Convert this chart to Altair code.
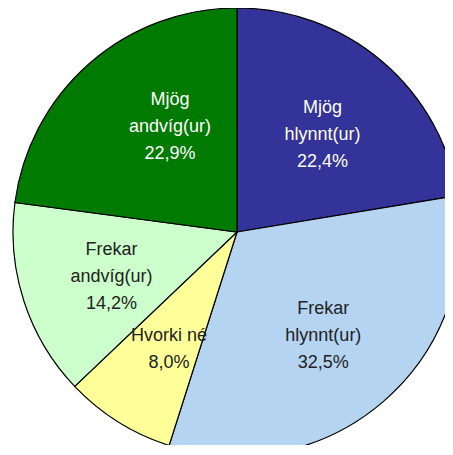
import altair as alt
import pandas as pd

categories = ["Mjög hlynnt(ur)", "Frekar hlynnt(ur)", "Hvorki né", "Frekar andvíg(ur)", "Mjög andvíg(ur)"]
label_lines = ["Mjög\nhlynnt(ur)", "Frekar\nhlynnt(ur)", "Hvorki né", "Frekar\nandvíg(ur)", "Mjög\nandvíg(ur)"]
values = [22.4, 32.5, 8.0, 14.2, 22.9]
value_labels = ["22,4%", "32,5%", "8,0%", "14,2%", "22,9%"]
slice_colors = ["#333399", "#B4D4F2", "#FFFF99", "#CCFFCC", "#007A00"]
text_colors = ["#FFFFFF", "#222222", "#222222", "#222222", "#FFFFFF"]

full = [f"{a}\n{b}" for a, b in zip(label_lines, value_labels)]
last = categories[-1]
df = pd.DataFrame({
    "cat": categories,
    "label_a": [t if (t.count("\n") == 2 and c != last) else "" for t, c in zip(full, categories)],
    "label_b": [t if c == last else "" for t, c in zip(full, categories)],
    "label_c": [t if t.count("\n") == 1 else "" for t in full],
    "value": values,
    "idx": list(range(len(categories))),
})

CX, CY, R = 229, 224, 224
LH = 27

base = alt.Chart(df).encode(
    theta=alt.Theta("value:Q", stack=True),
    order=alt.Order("idx:Q", sort="ascending"),
)

pie = base.mark_arc(radius=R, stroke="black", strokeWidth=1.2).encode(
    x=alt.value(CX), y=alt.value(CY),
    color=alt.Color("cat:N", scale=alt.Scale(domain=categories, range=slice_colors), legend=None),
)

def text_layer(field, dx, dy):
    return base.mark_text(radius=132, lineBreak="\n", font="Liberation Sans", dx=dx, dy=dy,
                          fontSize=18, lineHeight=LH, align="center", baseline="middle").encode(
        x=alt.value(CX), y=alt.value(CY),
        text=f"{field}:N",
        color=alt.Color("cat:N", scale=alt.Scale(domain=categories, range=text_colors), legend=None),
    )

labels_a = text_layer("label_a", 0, -LH + 4)
labels_b = text_layer("label_b", 20, -LH - 6)
labels_c = text_layer("label_c", 2, -LH / 2 + 6)

chart = alt.layer(pie, labels_a, labels_b, labels_c).resolve_scale(color="independent").properties(
    width=437, height=437, autosize=alt.AutoSizeParams(type="none"), padding=0
).configure_view(stroke=None)

chart.save("out.html", embed_options={"renderer": "svg", "actions": False})
